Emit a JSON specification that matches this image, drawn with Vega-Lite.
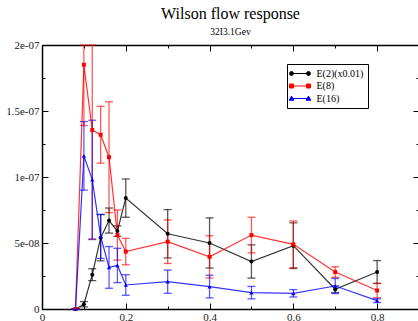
{
  "$schema": "https://vega.github.io/schema/vega-lite/v6.json",
  "width": 377,
  "height": 264,
  "autosize": {"type": "none"},
  "padding": {"left": 42, "top": 45, "right": 0, "bottom": 12},
  "background": "white",
  "title": {
    "text": "Wilson flow response",
    "subtitle": "32I3.1Gev",
    "font": "Liberation Serif",
    "fontSize": 16,
    "fontWeight": "normal",
    "color": "black",
    "subtitleFont": "Liberation Serif",
    "subtitleFontSize": 9.5,
    "subtitleColor": "black",
    "subtitlePadding": 5,
    "anchor": "middle",
    "offset": 3
  },
  "config": {
    "view": {"stroke": null},
    "axis": {
      "grid": false,
      "domainColor": "black",
      "domainWidth": 1.5,
      "tickColor": "black",
      "tickWidth": 1,
      "labelFont": "Liberation Serif",
      "labelFontSize": 11,
      "labelColor": "#222",
      "title": null
    }
  },
  "data": {
    "values": [
      {"series": "E(2)(x0.01)", "x": 0.08, "y": 0, "err": 0},
      {"series": "E(2)(x0.01)", "x": 0.10, "y": 3.6e-9, "err": 2e-9},
      {"series": "E(2)(x0.01)", "x": 0.12, "y": 2.6e-8, "err": 4.5e-9},
      {"series": "E(2)(x0.01)", "x": 0.14, "y": 5.4e-8, "err": 1.75e-8},
      {"series": "E(2)(x0.01)", "x": 0.16, "y": 6.7e-8, "err": 9.5e-9},
      {"series": "E(2)(x0.01)", "x": 0.18, "y": 5.9e-8, "err": 4e-9},
      {"series": "E(2)(x0.01)", "x": 0.20, "y": 8.4e-8, "err": 1.45e-8},
      {"series": "E(2)(x0.01)", "x": 0.30, "y": 5.7e-8, "err": 1.83e-8},
      {"series": "E(2)(x0.01)", "x": 0.40, "y": 5.0e-8, "err": 1.9e-8},
      {"series": "E(2)(x0.01)", "x": 0.50, "y": 3.6e-8, "err": 1.26e-8},
      {"series": "E(2)(x0.01)", "x": 0.60, "y": 4.8e-8, "err": 1.73e-8},
      {"series": "E(2)(x0.01)", "x": 0.70, "y": 1.5e-8, "err": 2.5e-9},
      {"series": "E(2)(x0.01)", "x": 0.80, "y": 2.8e-8, "err": 8.7e-9},
      {"series": "E(8)", "x": 0.08, "y": 0, "err": 0},
      {"series": "E(8)", "x": 0.10, "y": 1.85e-7, "err": 4.6e-8},
      {"series": "E(8)", "x": 0.12, "y": 1.356e-7, "err": 8.3e-8},
      {"series": "E(8)", "x": 0.14, "y": 1.32e-7, "err": 2.15e-8},
      {"series": "E(8)", "x": 0.16, "y": 1.15e-7, "err": 4.2e-8},
      {"series": "E(8)", "x": 0.18, "y": 5.6e-8, "err": 1.9e-8},
      {"series": "E(8)", "x": 0.20, "y": 4.35e-8, "err": 1.0e-8},
      {"series": "E(8)", "x": 0.30, "y": 5.1e-8, "err": 1.65e-8},
      {"series": "E(8)", "x": 0.40, "y": 3.95e-8, "err": 1.6e-8},
      {"series": "E(8)", "x": 0.50, "y": 5.6e-8, "err": 1.35e-8},
      {"series": "E(8)", "x": 0.60, "y": 4.9e-8, "err": 1.77e-8},
      {"series": "E(8)", "x": 0.70, "y": 2.8e-8, "err": 4e-9},
      {"series": "E(8)", "x": 0.80, "y": 1.4e-8, "err": 5.5e-9},
      {"series": "E(16)", "x": 0.08, "y": 0, "err": 0},
      {"series": "E(16)", "x": 0.10, "y": 1.16e-7, "err": 2.6e-8},
      {"series": "E(16)", "x": 0.12, "y": 9.8e-8, "err": 4.5e-8},
      {"series": "E(16)", "x": 0.14, "y": 5.5e-8, "err": 1.67e-8},
      {"series": "E(16)", "x": 0.16, "y": 3.15e-8, "err": 1.58e-8},
      {"series": "E(16)", "x": 0.18, "y": 3.3e-8, "err": 1.3e-8},
      {"series": "E(16)", "x": 0.20, "y": 1.82e-8, "err": 7.8e-9},
      {"series": "E(16)", "x": 0.30, "y": 2.07e-8, "err": 8.8e-9},
      {"series": "E(16)", "x": 0.40, "y": 1.7e-8, "err": 8.6e-9},
      {"series": "E(16)", "x": 0.50, "y": 1.24e-8, "err": 4.7e-9},
      {"series": "E(16)", "x": 0.60, "y": 1.19e-8, "err": 2.8e-9},
      {"series": "E(16)", "x": 0.70, "y": 1.74e-8, "err": 5.7e-9},
      {"series": "E(16)", "x": 0.80, "y": 6.3e-9, "err": 1.4e-9}
    ]
  },
  "resolve": {"axis": {"x": "independent", "y": "independent"}},
  "layer": [
    {
      "mark": {"type": "errorbar", "ticks": {"size": 8}, "opacity": 0.65, "thickness": 1.3},
      "encoding": {
        "x": {"field": "x", "type": "quantitative", "scale": {"domain": [0, 0.9], "nice": false}, "axis": null},
        "y": {"field": "y", "type": "quantitative", "scale": {"domain": [0, 2e-7], "nice": false, "clamp": true}, "axis": null},
        "yError": {"field": "err"},
        "color": {"field": "series", "type": "nominal", "scale": {"domain": ["E(2)(x0.01)", "E(8)", "E(16)"], "range": ["black", "red", "blue"]}}
      }
    },
    {
      "mark": {"type": "line", "strokeWidth": 1.2, "opacity": 0.8},
      "encoding": {
        "x": {"field": "x", "type": "quantitative", "scale": {"domain": [0, 0.9], "nice": false},
          "axis": {"orient": "bottom", "values": [0, 0.1, 0.2, 0.3, 0.4, 0.5, 0.6, 0.7, 0.8],
            "labelExpr": "abs(datum.value*5 - round(datum.value*5)) > 0.1 ? '' : format(datum.value, '~g')",
            "tickSize": {"condition": {"test": "abs(datum.value*5 - round(datum.value*5)) > 0.1", "value": -3}, "value": -6},
            "labelPadding": 8, "labelFlush": false, "labelFontSize": 11}},
        "y": {"field": "y", "type": "quantitative", "scale": {"domain": [0, 2e-7], "nice": false, "clamp": true},
          "axis": {"orient": "left", "values": [0, 2.5e-8, 5e-8, 7.5e-8, 1e-7, 1.25e-7, 1.5e-7, 1.75e-7, 2e-7],
            "labelExpr": "abs(datum.value/5e-8 - round(datum.value/5e-8)) > 0.1 ? '' : (datum.value == 0 ? '0' : replace(format(datum.value, '~e'), regexp('e-(\\\\d)$'), 'e-0$1'))",
            "tickSize": {"condition": {"test": "abs(datum.value/5e-8 - round(datum.value/5e-8)) > 0.1", "value": -3}, "value": -6},
            "labelPadding": 9, "labelFlush": false, "labelFontSize": 11}},
        "color": {"field": "series", "type": "nominal", "scale": {"domain": ["E(2)(x0.01)", "E(8)", "E(16)"], "range": ["black", "red", "blue"]},
          "legend": {
            "orient": "none", "legendX": 245, "legendY": 19, "title": null,
            "fillColor": "white", "strokeColor": "black", "padding": 4,
            "labelFont": "Liberation Serif", "labelFontSize": 10, "labelColor": "black",
            "symbolSize": 100, "symbolOffset": 3.5, "labelOffset": 11, "rowPadding": 1.5,
            "symbolOpacity": 1,
            "encode": {"symbols": {"update": {
              "shape": {"signal": "datum.value === 'E(8)' ? 'M-1.7,0H1.7M-2.1,-0.4h0.8v0.8h-0.8zM1.3,-0.4h0.8v0.8h-0.8z' : datum.value === 'E(16)' ? 'M-1.7,0H1.7M-1.7,-0.5L-1.25,0.35H-2.15ZM1.7,-0.5L2.15,0.35H1.25Z' : 'M-1.7,0H1.7M-2.1,0a0.4,0.4 0 1,0 0.8,0a0.4,0.4 0 1,0 -0.8,0M1.3,0a0.4,0.4 0 1,0 0.8,0a0.4,0.4 0 1,0 -0.8,0'"},
              "fill": {"signal": "datum.value === 'E(8)' ? 'red' : datum.value === 'E(16)' ? 'blue' : 'black'"},
              "stroke": {"signal": "datum.value === 'E(8)' ? 'red' : datum.value === 'E(16)' ? 'blue' : 'black'"},
              "strokeWidth": {"value": 1},
              "opacity": {"value": 1}
            }}}
          }}
      }
    },
    {
      "transform": [{"filter": "datum.series === 'E(2)(x0.01)'"}],
      "mark": {"type": "point", "shape": "circle", "filled": true, "size": 16, "opacity": 1},
      "encoding": {
        "x": {"field": "x", "type": "quantitative", "scale": {"domain": [0, 0.9], "nice": false},
          "axis": {"orient": "top", "values": [0, 0.1, 0.2, 0.3, 0.4, 0.5, 0.6, 0.7, 0.8], "labels": false,
            "tickSize": {"condition": {"test": "abs(datum.value*5 - round(datum.value*5)) > 0.1", "value": -3}, "value": -6}}},
        "y": {"field": "y", "type": "quantitative", "scale": {"domain": [0, 2e-7], "nice": false, "clamp": true},
          "axis": {"orient": "right", "values": [0, 2.5e-8, 5e-8, 7.5e-8, 1e-7, 1.25e-7, 1.5e-7, 1.75e-7, 2e-7], "labels": false,
            "tickSize": {"condition": {"test": "abs(datum.value/5e-8 - round(datum.value/5e-8)) > 0.1", "value": -3}, "value": -6}}},
        "color": {"field": "series", "type": "nominal", "scale": {"domain": ["E(2)(x0.01)", "E(8)", "E(16)"], "range": ["black", "red", "blue"]}}
      }
    },
    {
      "transform": [{"filter": "datum.series === 'E(8)'"}],
      "mark": {"type": "point", "shape": "square", "filled": true, "size": 16, "opacity": 1},
      "encoding": {
        "x": {"field": "x", "type": "quantitative", "scale": {"domain": [0, 0.9], "nice": false}, "axis": null},
        "y": {"field": "y", "type": "quantitative", "scale": {"domain": [0, 2e-7], "nice": false, "clamp": true}, "axis": null},
        "color": {"field": "series", "type": "nominal", "scale": {"domain": ["E(2)(x0.01)", "E(8)", "E(16)"], "range": ["black", "red", "blue"]}}
      }
    },
    {
      "transform": [{"filter": "datum.series === 'E(16)'"}],
      "mark": {"type": "point", "shape": "triangle-up", "filled": true, "size": 18, "opacity": 1},
      "encoding": {
        "x": {"field": "x", "type": "quantitative", "scale": {"domain": [0, 0.9], "nice": false}, "axis": null},
        "y": {"field": "y", "type": "quantitative", "scale": {"domain": [0, 2e-7], "nice": false, "clamp": true}, "axis": null},
        "color": {"field": "series", "type": "nominal", "scale": {"domain": ["E(2)(x0.01)", "E(8)", "E(16)"], "range": ["black", "red", "blue"]}}
      }
    }
  ]
}
